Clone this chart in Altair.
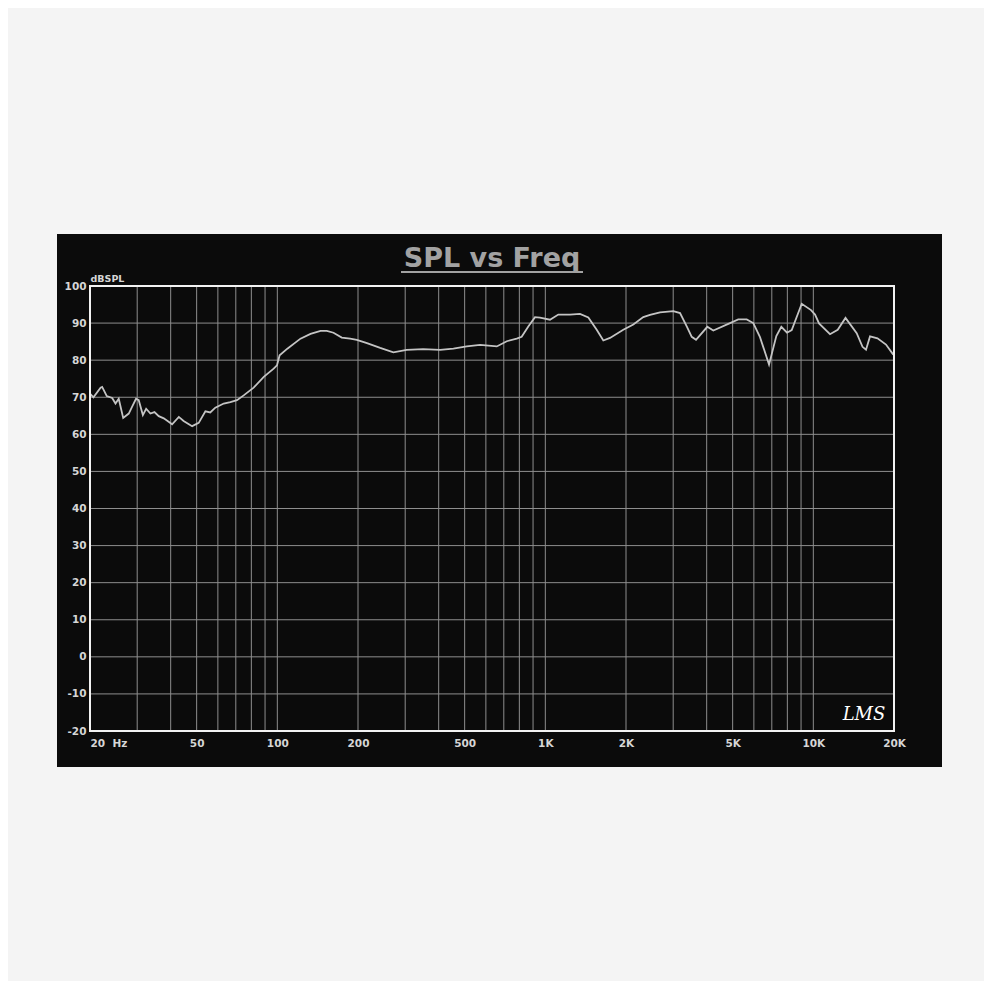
import altair as alt
import pandas as pd

# ---- data ----
freq_hz = [20, 20.6, 21.9, 22.2, 23.1, 24.2, 24.9, 25.6, 26.6, 27.9, 28.7, 29.7, 30.4,
           31.5, 32.4, 33.6, 34.8, 36.1, 37.7, 40.5, 42.9, 44.7, 48.1, 50.9, 53.9, 56.2,
           58.7, 63.1, 66.8, 70.7, 74.9, 81.6, 89, 96.9, 99.7, 102, 109, 122, 133, 145,
           153, 162, 174, 187, 198, 216, 242, 271, 304, 350, 405, 454, 509, 571, 659,
           718, 782, 816, 864, 915, 955, 1041, 1118, 1236, 1347, 1447, 1555, 1646, 1743,
           1954, 2130, 2320, 2458, 2679, 3003, 3182, 3370, 3518, 3650, 4022, 4234, 4888,
           5248, 5642, 5970, 6325, 6835, 7277, 7596, 7977, 8306, 9051, 9806, 10148,
           10502, 11541, 12331, 13186, 14516, 15260, 15726, 16274, 17356, 18670, 19880]
spl_db = [71.0, 70.0, 72.6, 72.8, 70.3, 69.8, 68.3, 69.6, 64.4, 65.6, 67.4, 69.6, 69.2,
          65.2, 66.9, 65.6, 66.0, 64.9, 64.3, 62.7, 64.7, 63.6, 62.2, 63.1, 66.2, 65.9,
          67.2, 68.3, 68.7, 69.2, 70.5, 72.6, 75.5, 77.7, 78.6, 81.3, 83.1, 85.8, 87.1, 87.9,
          87.9, 87.4, 86.1, 85.8, 85.5, 84.6, 83.3, 82.1, 82.8, 83.0, 82.8, 83.1, 83.7, 84.1, 83.7,
          85.1, 85.8, 86.3, 89.1, 91.6, 91.5, 90.9, 92.3, 92.3, 92.5, 91.5, 88.2, 85.3, 86.0,
          88.2, 89.6, 91.6, 92.2, 92.9, 93.2, 92.7, 89.1, 86.3, 85.5, 89.0, 88.0, 90.0,
          91.0, 91.0, 90.0, 86.2, 78.8, 86.5, 89.0, 87.4, 88.1, 95.2, 93.5, 92.3,
          89.9, 87.0, 88.2, 91.4, 87.3, 83.6, 82.8, 86.4, 85.9, 84.2, 81.5]

grid_freqs = [20, 30, 40, 50, 60, 70, 80, 90, 100, 200, 300, 400, 500, 600, 700, 800, 900,
              1000, 2000, 3000, 4000, 5000, 6000, 7000, 8000, 9000, 10000, 20000]
label_freqs = [20, 50, 100, 200, 500, 1000, 2000, 5000, 10000, 20000]
label_texts = ["20\u00a0\u00a0Hz", "50", "100", "200", "500", "1K", "2K", "5K", "10K", "20K"]
db_ticks = [-20, -10, 0, 10, 20, 30, 40, 50, 60, 70, 80, 90, 100]

title_text = "SPL vs Freq"
y_title = "dBSPL"
logo_text = "LMS"

W, H = 804, 445

df = pd.DataFrame({"freq": freq_hz, "spl": spl_db})
xgrid = pd.DataFrame({"freq": [f for f in grid_freqs if f not in (20, 20000)]})
ygrid = pd.DataFrame({"spl": [d for d in db_ticks if d not in (-20, 100)]})
one = pd.DataFrame({"t": [title_text]})
logo = pd.DataFrame({"t": [logo_text]})
frame = pd.DataFrame({"freq": [20], "x2": [20000], "spl": [-20], "y2": [100]})

label_expr = " : ".join(
    [f"datum.value == {v} ? '{t}'" for v, t in zip(label_freqs, label_texts)]) + " : ''"
ylabel_expr = "replace(datum.label, '\u2212', '-')"

xscale = alt.Scale(type="log", domain=[20, 20000], nice=False)
yscale = alt.Scale(domain=[-20, 100], nice=False, zero=False)

lab_color = "#d6d6d6"
font = "DejaVu Sans"
fs = 10.5

x_axis = alt.Axis(values=grid_freqs, labelExpr=label_expr, grid=False, ticks=False,
                  domain=False, labelColor=lab_color, labelFont=font, labelFontWeight="bold",
                  labelFontSize=fs, labelPadding=7, title=None, zindex=1, labelOverlap=False,
                  labelAlign={"condition": {"test": "datum.value == 20", "value": "left"},
                              "value": "center"})
y_axis = alt.Axis(values=db_ticks, labelExpr=ylabel_expr, grid=False, ticks=False,
                  domain=False, tickCount=13,
                  labelColor=lab_color, labelFont=font, labelFontWeight="bold",
                  labelFontSize=fs, labelPadding=4, zindex=1, labelOverlap=False,
                  title=y_title, titleAngle=0, titleX=0, titleY=-5, titleAlign="left",
                  titleBaseline="alphabetic", titleColor=lab_color, titleFont=font,
                  titleFontWeight="bold", titleFontSize=9.5)

X = alt.X("freq:Q", scale=xscale, axis=x_axis)
Y = alt.Y("spl:Q", scale=yscale, axis=y_axis)

panel = alt.Chart(one).mark_rect(color="#0b0b0b").encode(
    x=alt.value(-33), x2=alt.value(W + 48), y=alt.value(-52), y2=alt.value(H + 36))

vrules = alt.Chart(xgrid).mark_rule(color="#8e8e8e", strokeWidth=1).encode(x=X)
hrules = alt.Chart(ygrid).mark_rule(color="#8e8e8e", strokeWidth=1).encode(y=Y)

line = alt.Chart(df).mark_line(color="#c4c4c4", strokeWidth=1.8).encode(x=X, y=Y)

border = alt.Chart(frame).mark_rect(filled=False, stroke="#f2f2f2", strokeWidth=2).encode(
    x=X, x2="x2:Q", y=Y, y2="y2:Q")

title = alt.Chart(one).mark_text(font=font, fontWeight="bold", fontSize=27,
                                 color="#a2a2a2", align="center",
                                 baseline="alphabetic").encode(
    text="t:N", x=alt.value(402), y=alt.value(-19))
underline = alt.Chart(one).mark_rule(color="#a2a2a2", strokeWidth=2).encode(
    x=alt.value(311), x2=alt.value(493), y=alt.value(-14))

logo_mark = alt.Chart(logo).mark_text(font="DejaVu Serif", fontStyle="italic", fontSize=18,
                                      color="#ffffff", align="center",
                                      baseline="alphabetic").encode(
    text="t:N", x=alt.value(774), y=alt.value(434))

chart = alt.layer(panel, vrules, hrules, line, border, title, underline, logo_mark).properties(
    width=W, height=H,
    padding={"left": 82, "top": 278, "right": 90, "bottom": 250},
    autosize=alt.AutoSizeParams(type="none"),
    background="#f4f4f4",
).configure_view(stroke=None)

chart.save("out.html", embed_options={"renderer": "svg", "actions": False})
